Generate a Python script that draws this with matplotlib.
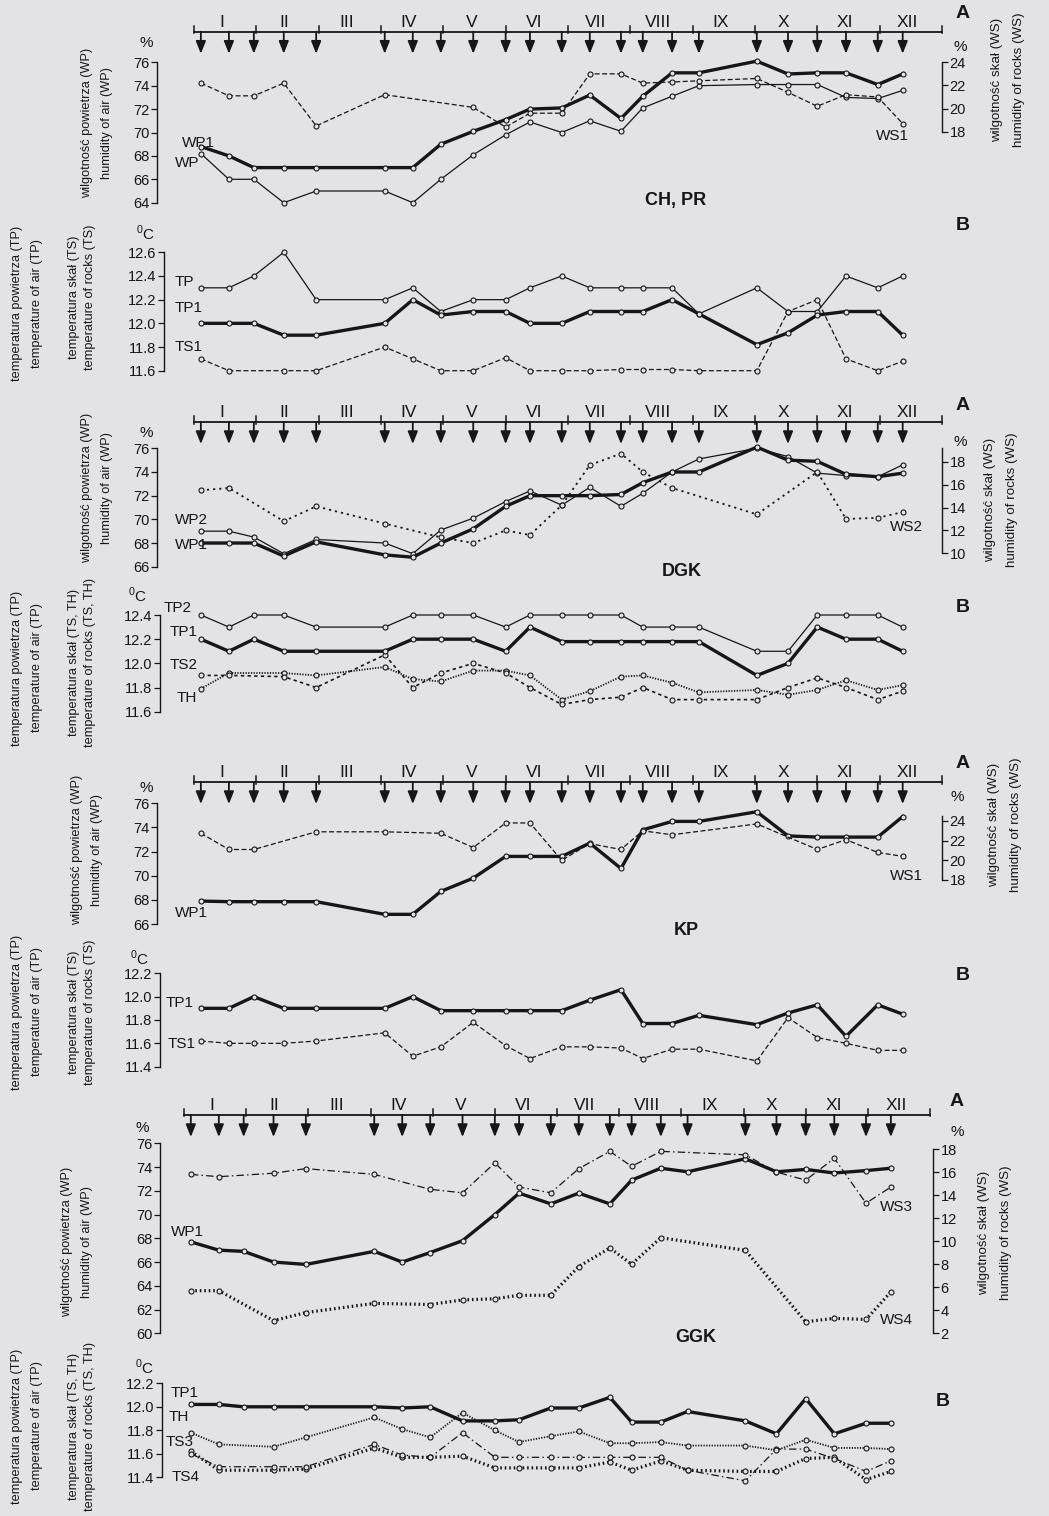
import matplotlib
matplotlib.use("Agg")
import matplotlib.pyplot as plt

plt.rcParams['font.family'] = ['Liberation Sans', 'DejaVu Sans']

W, H = 1049, 1516
BG = '#e3e3e5'
INK = '#161616'

MONTHS = ["I", "II", "III", "IV", "V", "VI", "VII", "VIII", "IX", "X", "XI", "XII"]
# measurement dates, in months counted from 1 January
DATES = [0.11, 0.56, 0.96, 1.44, 1.96, 3.06, 3.51, 3.96, 4.48, 5.0, 5.39, 5.90,
         6.35, 6.85, 7.20, 7.67, 8.10, 9.03, 9.53, 10.0, 10.46, 10.97, 11.37]

# --- CH, PR ---
CH_WP1 = [68.8, 68.0, 67.0, 67.0, 67.0, 67.0, 67.0, 69.0, 70.1, 71.1, 72.0, 72.1,
          73.2, 71.2, 73.1, 75.1, 75.1, 76.1, 75.0, 75.1, 75.1, 74.1, 75.0]
CH_WP = [68.2, 66.0, 66.0, 64.0, 65.0, 65.0, 64.0, 66.0, 68.1, 69.8, 70.9, 70.0,
         71.0, 70.1, 72.1, 73.1, 74.0, 74.1, 74.1, 74.1, 73.0, 72.9, 73.6]
CH_WS1 = [22.2, 21.1, 21.1, 22.2, 18.5, 21.2, None, None, 20.1, 18.4, 19.6, 19.6,
          23.0, 23.0, 22.2, 22.3, 22.4, 22.6, 21.4, 20.2, 21.2, 21.0, 18.7]
CH_TP = [12.3, 12.3, 12.4, 12.6, 12.2, 12.2, 12.3, 12.1, 12.2, 12.2, 12.3, 12.4,
         12.3, 12.3, 12.3, 12.3, 12.08, 12.3, 12.1, 12.1, 12.4, 12.3, 12.4]
CH_TP1 = [12.0, 12.0, 12.0, 11.9, 11.9, 12.0, 12.2, 12.07, 12.1, 12.1, 12.0, 12.0,
          12.1, 12.1, 12.1, 12.2, 12.08, 11.82, 11.92, 12.07, 12.1, 12.1, 11.9]
CH_TS1 = [11.7, 11.6, None, 11.6, 11.6, 11.8, 11.7, 11.6, 11.6, 11.71, 11.6, 11.6,
          11.6, 11.61, 11.61, 11.61, 11.6, 11.6, 12.1, 12.2, 11.7, 11.6, 11.68]

# --- DGK ---
DGK_WP2 = [69.0, 69.0, 68.5, 67.1, 68.3, 68.0, 67.1, 69.1, 70.1, 71.5, 72.4, 71.2,
           72.7, 71.1, 72.2, 74.0, 75.1, 76.0, 75.3, 73.9, 73.7, 73.6, 74.6]
DGK_WP1 = [68.0, 68.0, 68.0, 66.9, 68.1, 67.0, 66.8, 68.0, 69.2, 71.1, 72.0, 72.0,
           72.0, 72.1, 73.1, 74.0, 74.0, 76.1, 75.0, 74.9, 73.8, 73.6, 73.9]
DGK_WS2 = [15.5, 15.7, None, 12.8, 14.1, 12.6, None, 11.4, 10.9, 12.0, 11.6, 14.2,
           17.7, 18.7, 17.1, 15.7, None, 13.4, None, 17.1, 13.0, 13.1, 13.6]
DGK_TP2 = [12.4, 12.3, 12.4, 12.4, 12.3, 12.3, 12.4, 12.4, 12.4, 12.3, 12.4, 12.4,
           12.4, 12.4, 12.3, 12.3, 12.3, 12.1, 12.1, 12.4, 12.4, 12.4, 12.3]
DGK_TP1 = [12.2, 12.1, 12.2, 12.1, 12.1, 12.1, 12.2, 12.2, 12.2, 12.1, 12.3, 12.18,
           12.18, 12.18, 12.18, 12.18, 12.18, 11.9, 12.0, 12.3, 12.2, 12.2, 12.1]
DGK_TS2 = [11.9, 11.9, None, 11.89, 11.8, 12.07, 11.8, 11.92, 12.0, 11.92, 11.8, 11.66,
           11.7, 11.72, 11.8, 11.7, 11.7, 11.7, 11.8, 11.88, 11.8, 11.7, 11.77]
DGK_TH = [11.79, 11.92, None, 11.92, 11.9, 11.97, 11.87, 11.85, 11.94, 11.94, 11.9, 11.7,
          11.77, 11.89, 11.9, 11.84, 11.76, 11.78, 11.74, 11.78, 11.86, 11.78, 11.82]

# --- KP ---
KP_WP1 = [67.9, 67.85, 67.85, 67.85, 67.85, 66.8, 66.8, 68.7, 69.8, 71.6, 71.6, 71.6,
          72.7, 70.6, 73.8, 74.5, 74.5, 75.3, 73.3, 73.2, 73.2, 73.2, 74.9]
KP_WS1 = [22.75, 21.1, 21.1, None, 22.9, 22.9, None, 22.75, 21.3, 23.8, 23.8, 20.0,
          21.7, 21.1, 23.0, 22.6, None, 23.7, None, 21.1, 22.1, 20.8, 20.4]
KP_TP1 = [11.9, 11.9, 12.0, 11.9, 11.9, 11.9, 12.0, 11.88, 11.88, 11.88, 11.88, 11.88,
          11.97, 12.06, 11.77, 11.77, 11.84, 11.76, 11.86, 11.93, 11.66, 11.93, 11.85]
KP_TS1 = [11.62, 11.6, 11.6, 11.6, 11.62, 11.69, 11.49, 11.57, 11.78, 11.58, 11.47, 11.57,
          11.57, 11.56, 11.47, 11.55, 11.55, 11.45, 11.82, 11.65, 11.6, 11.54, 11.54]

# --- GGK ---
GGK_WP1 = [67.7, 67.0, 66.9, 66.0, 65.8, 66.9, 66.0, 66.8, 67.8, 70.0, 71.8, 70.9,
           71.8, 70.9, 72.9, 73.9, 73.6, 74.7, 73.6, 73.8, 73.5, 73.7, 73.9]
GGK_WS3 = [15.8, 15.6, None, 15.9, 16.3, 15.8, None, 14.5, 14.2, 16.8, 14.7, 14.2,
           16.3, 17.8, 16.5, 17.8, None, 17.5, 16.0, 15.3, 17.2, 13.3, 14.7]
GGK_WS4 = [5.7, 5.7, None, 3.1, 3.8, 4.6, None, 4.5, 4.9, 5.0, 5.3, 5.3,
           7.8, 9.4, 8.0, 10.3, None, 9.2, None, 3.0, 3.3, 3.2, 5.6]
GGK_TP1 = [12.02, 12.02, 12.0, 12.0, 12.0, 12.0, 11.99, 12.0, 11.88, 11.88, 11.89, 11.99,
           11.99, 12.08, 11.87, 11.87, 11.96, 11.88, 11.77, 12.07, 11.77, 11.86, 11.86]
GGK_TH = [11.78, 11.68, None, 11.66, 11.74, 11.91, 11.81, 11.74, 11.95, 11.8, 11.7, 11.75,
          11.79, 11.69, 11.69, 11.7, 11.67, 11.67, 11.63, 11.72, 11.65, 11.65, 11.64]
GGK_TS3 = [11.6, 11.49, None, 11.49, 11.49, 11.68, 11.59, 11.57, 11.78, 11.57, 11.57, 11.57,
           11.57, 11.57, 11.57, 11.57, 11.46, 11.37, 11.64, 11.64, 11.56, 11.45, 11.54]
GGK_TS4 = [11.62, 11.46, None, 11.46, 11.47, 11.65, 11.57, 11.57, 11.58, 11.48, 11.48, 11.48,
           11.48, 11.53, 11.46, 11.54, 11.46, 11.45, 11.45, 11.56, 11.57, 11.38, 11.45]

THICK = dict(lw=2.4, ls='-')
THIN = dict(lw=0.9, ls='-')
DASH = dict(lw=0.9, ls=(0, (4, 2)))
DOTS = dict(lw=1.3, ls=(0, (1.2, 2.2)))
FINEDOT = dict(lw=1.3, ls=(0, (0.7, 0.8)))
SHORTDASH = dict(lw=1.2, ls=(0, (2, 2)))
DASHDOT = dict(lw=0.9, ls=(0, (6, 2.5, 1.2, 2.5)))
HEAVYDOT = dict(lw=2.3, ls=(0, (0.5, 0.9)))

fig = plt.figure(figsize=(W / 100, H / 100), dpi=100)
fig.patch.set_facecolor(BG)


def T(x, y, s, **kw):
    kw.setdefault('color', INK)
    return fig.text(x / W, 1 - y / H, s, **kw)


def add_ax(x0, x1, ytop, ybot):
    ax = fig.add_axes([x0 / W, 1 - ybot / H, (x1 - x0) / W, (ybot - ytop) / H])
    ax.set_facecolor('none')
    return ax


def xlim_for(x0, x1, m0, mpx):
    return ((x0 - m0) / mpx, (x1 - m0) / mpx)


def style_axis(ax, side, ylim, ticks, fmt, bounds=None):
    ax.set_ylim(*ylim)
    for s in ['top', 'right', 'bottom', 'left']:
        ax.spines[s].set_visible(s == side)
    ax.spines[side].set_color(INK)
    ax.spines[side].set_linewidth(1.0)
    b = bounds if bounds else (ticks[0], ticks[-1])
    ax.spines[side].set_bounds(*b)
    ax.set_yticks(ticks)
    ax.set_yticklabels([fmt.format(t) for t in ticks])
    ax.tick_params(axis='y', direction='out', length=4, width=0.9, colors=INK,
                   labelsize=10.5, pad=1.5)
    ax.set_xticks([])
    if side == 'right':
        ax.yaxis.set_ticks_position('right')


def series(ax, vals, style):
    xs = [d for d, v in zip(DATES, vals) if v is not None]
    ys = [v for v in vals if v is not None]
    ax.plot(xs, ys, color=INK, marker='o', ms=3.6, mfc=BG, mec=INK, mew=0.8,
            clip_on=False, zorder=3, **style)


def header(x0, x1, m0, mpx, yline):
    hx = add_ax(x0, x1, yline - 26, yline + 24)
    hx.set_xlim(*xlim_for(x0, x1, m0, mpx))
    hx.set_ylim(yline + 24, yline - 26)
    hx.axis('off')
    hx.plot([0, 12], [yline, yline], color=INK, lw=1.3, clip_on=False)
    for m in range(13):
        hx.plot([m, m], [yline - 6, yline + 1.5], color=INK, lw=1.1, clip_on=False)
    for i, name in enumerate(MONTHS):
        hx.text(i + 0.45, yline - 2, name, ha='center', va='bottom', fontsize=12.5,
                color=INK)
    for d in DATES:
        hx.annotate('', xy=(d, yline + 22), xytext=(d, yline),
                    arrowprops=dict(arrowstyle='-|>,head_length=0.75,head_width=0.3',
                                    color=INK, lw=1.3, shrinkA=0, shrinkB=0))


def left_labels_A(x, yc):
    T(x - 10, yc, 'wilgotność powietrza (WP)', rotation=90, ha='center', va='center', fontsize=9.2)
    T(x + 10, yc, 'humidity of air (WP)', rotation=90, ha='center', va='center', fontsize=9.2)


def right_labels_A(x, yc):
    T(x - 11, yc, 'wilgotność skał (WS)', rotation=90, ha='center', va='center', fontsize=9.6)
    T(x + 11, yc, 'humidity of rocks (WS)', rotation=90, ha='center', va='center', fontsize=9.6)


def left_labels_B(yc1, yc2, rocks):
    T(17, yc1, 'temperatura powietrza (TP)', rotation=90, ha='center', va='center', fontsize=9.2)
    T(37, yc1, 'temperature of air (TP)', rotation=90, ha='center', va='center', fontsize=9.2)
    T(74, yc2, 'temperatura skał (%s)' % rocks, rotation=90, ha='center', va='center', fontsize=9.2)
    T(90, yc2, 'temperature of rocks (%s)' % rocks, rotation=90, ha='center', va='center', fontsize=9.2)


M0, MPX = 194, 62.33
G0, GPX = 184, 62.17
LAB = dict(fontsize=11, va='center', ha='left')

# ---------------- CH, PR : A ----------------
header(157, 942, M0, MPX, 31.7)
ax = add_ax(157, 942, 62.3, 202.7)
ax.set_xlim(*xlim_for(157, 942, M0, MPX))
style_axis(ax, 'left', (64, 76), list(range(64, 77, 2)), '{:d}')
series(ax, CH_WP, THIN)
series(ax, CH_WP1, THICK)
rx = ax.twinx()
style_axis(rx, 'right', (11.86, 24), [18, 20, 22, 24], '{:d}')
series(rx, CH_WS1, DASH)
T(146, 43, '%', fontsize=11, ha='center', va='center')
T(960, 47, '%', fontsize=11, ha='center', va='center')
T(963, 14, 'A', fontsize=14, fontweight='bold', ha='center', va='center')
T(676, 200, 'CH, PR', fontsize=13, fontweight='bold', ha='center', va='center')
T(182, 143, 'WP1', **LAB)
T(175, 163, 'WP', **LAB)
T(876, 136, 'WS1', **LAB)
left_labels_A(97, 123)
right_labels_A(1008, 80)

# ---------------- CH, PR : B ----------------
ax = add_ax(164, 942, 252.3, 370.7)
ax.set_xlim(*xlim_for(164, 942, M0, MPX))
style_axis(ax, 'left', (11.6, 12.6), [11.6, 11.8, 12.0, 12.2, 12.4, 12.6], '{:.1f}')
series(ax, CH_TS1, DASH)
series(ax, CH_TP, THIN)
series(ax, CH_TP1, THICK)
T(145, 233, r'$^\mathregular{0}$C', fontsize=11, ha='center', va='center')
T(963, 225, 'B', fontsize=14, fontweight='bold', ha='center', va='center')
T(175, 282, 'TP', **LAB)
T(175, 308, 'TP1', **LAB)
T(175, 347, 'TS1', **LAB)
left_labels_B(303, 297, 'TS')

# ---------------- DGK : A ----------------
header(157, 942, M0, MPX, 422)
ax = add_ax(157, 942, 448.3, 566.7)
ax.set_xlim(*xlim_for(157, 942, M0, MPX))
style_axis(ax, 'left', (66, 76), list(range(66, 77, 2)), '{:d}')
series(ax, DGK_WP2, THIN)
series(ax, DGK_WP1, THICK)
rx = ax.twinx()
style_axis(rx, 'right', (8.84, 19.16), [10, 12, 14, 16, 18], '{:d}', bounds=(10, 19.16))
series(rx, DGK_WS2, DOTS)
T(146, 433, '%', fontsize=11, ha='center', va='center')
T(960, 442, '%', fontsize=11, ha='center', va='center')
T(963, 405, 'A', fontsize=14, fontweight='bold', ha='center', va='center')
T(682, 572, 'DGK', fontsize=13, fontweight='bold', ha='center', va='center')
T(175, 520, 'WP2', **LAB)
T(175, 545, 'WP1', **LAB)
T(890, 527, 'WS2', **LAB)
left_labels_A(97, 488)
right_labels_A(1001, 500)

# ---------------- DGK : B ----------------
ax = add_ax(160, 942, 615, 711.7)
ax.set_xlim(*xlim_for(160, 942, M0, MPX))
style_axis(ax, 'left', (11.6, 12.4), [11.6, 11.8, 12.0, 12.2, 12.4], '{:.1f}')
series(ax, DGK_TH, FINEDOT)
series(ax, DGK_TS2, SHORTDASH)
series(ax, DGK_TP2, THIN)
series(ax, DGK_TP1, THICK)
T(137, 595, r'$^\mathregular{0}$C', fontsize=11, ha='center', va='center')
T(963, 607, 'B', fontsize=14, fontweight='bold', ha='center', va='center')
T(164, 608, 'TP2', **LAB)
T(170, 632, 'TP1', **LAB)
T(170, 665, 'TS2', **LAB)
T(177, 698, 'TH', **LAB)
left_labels_B(668, 662, 'TS, TH')

# ---------------- KP : A ----------------
header(157, 942, M0, MPX, 782)
ax = add_ax(157, 942, 803.3, 924)
ax.set_xlim(*xlim_for(157, 942, M0, MPX))
style_axis(ax, 'left', (66, 76), list(range(66, 77, 2)), '{:d}')
series(ax, KP_WP1, THICK)
rx = ax.twinx()
style_axis(rx, 'right', (13.52, 25.8), [18, 20, 22, 24], '{:d}', bounds=(18, 24.5))
series(rx, KP_WS1, DASH)
T(146, 788, '%', fontsize=11, ha='center', va='center')
T(957, 797, '%', fontsize=11, ha='center', va='center')
T(963, 763, 'A', fontsize=14, fontweight='bold', ha='center', va='center')
T(686, 930, 'KP', fontsize=13, fontweight='bold', ha='center', va='center')
T(175, 913, 'WP1', **LAB)
T(890, 876, 'WS1', **LAB)
left_labels_A(87, 850)
right_labels_A(1005, 825)

# ---------------- KP : B ----------------
ax = add_ax(160, 942, 973.3, 1066.7)
ax.set_xlim(*xlim_for(160, 942, M0, MPX))
style_axis(ax, 'left', (11.4, 12.2), [11.4, 11.6, 11.8, 12.0, 12.2], '{:.1f}')
series(ax, KP_TS1, DASH)
series(ax, KP_TP1, THICK)
T(139, 958, r'$^\mathregular{0}$C', fontsize=11, ha='center', va='center')
T(963, 975, 'B', fontsize=14, fontweight='bold', ha='center', va='center')
T(166, 1003, 'TP1', **LAB)
T(168, 1044, 'TS1', **LAB)
left_labels_B(1012, 1012, 'TS')

# ---------------- GGK : A ----------------
header(160, 933, G0, GPX, 1115)
ax = add_ax(160, 933, 1143.3, 1333.3)
ax.set_xlim(*xlim_for(160, 933, G0, GPX))
style_axis(ax, 'left', (60, 76), list(range(60, 77, 2)), '{:d}')
series(ax, GGK_WP1, THICK)
rx = ax.twinx()
style_axis(rx, 'right', (2.0, 18.5), list(range(2, 19, 2)), '{:d}')
series(rx, GGK_WS4, HEAVYDOT)
series(rx, GGK_WS3, DASHDOT)
T(142, 1128, '%', fontsize=11, ha='center', va='center')
T(957, 1132, '%', fontsize=11, ha='center', va='center')
T(957, 1101, 'A', fontsize=14, fontweight='bold', ha='center', va='center')
T(696, 1337, 'GGK', fontsize=13, fontweight='bold', ha='center', va='center')
T(171, 1232, 'WP1', **LAB)
T(880, 1207, 'WS3', **LAB)
T(880, 1320, 'WS4', **LAB)
left_labels_A(77, 1242)
right_labels_A(995, 1233)

# ---------------- GGK : B ----------------
ax = add_ax(162, 933, 1383.3, 1477.3)
ax.set_xlim(*xlim_for(162, 933, G0, GPX))
style_axis(ax, 'left', (11.4, 12.2), [11.4, 11.6, 11.8, 12.0, 12.2], '{:.1f}')
series(ax, GGK_TS4, HEAVYDOT)
series(ax, GGK_TS3, DASHDOT)
series(ax, GGK_TH, FINEDOT)
series(ax, GGK_TP1, THICK)
T(144, 1367, r'$^\mathregular{0}$C', fontsize=11, ha='center', va='center')
T(943, 1402, 'B', fontsize=14, fontweight='bold', ha='center', va='center')
T(171, 1393, 'TP1', **LAB)
T(169, 1417, 'TH', **LAB)
T(166, 1442, 'TS3', **LAB)
T(172, 1477, 'TS4', **LAB)
left_labels_B(1426, 1426, 'TS, TH')

fig.savefig('out.png', dpi=100, facecolor=BG)
